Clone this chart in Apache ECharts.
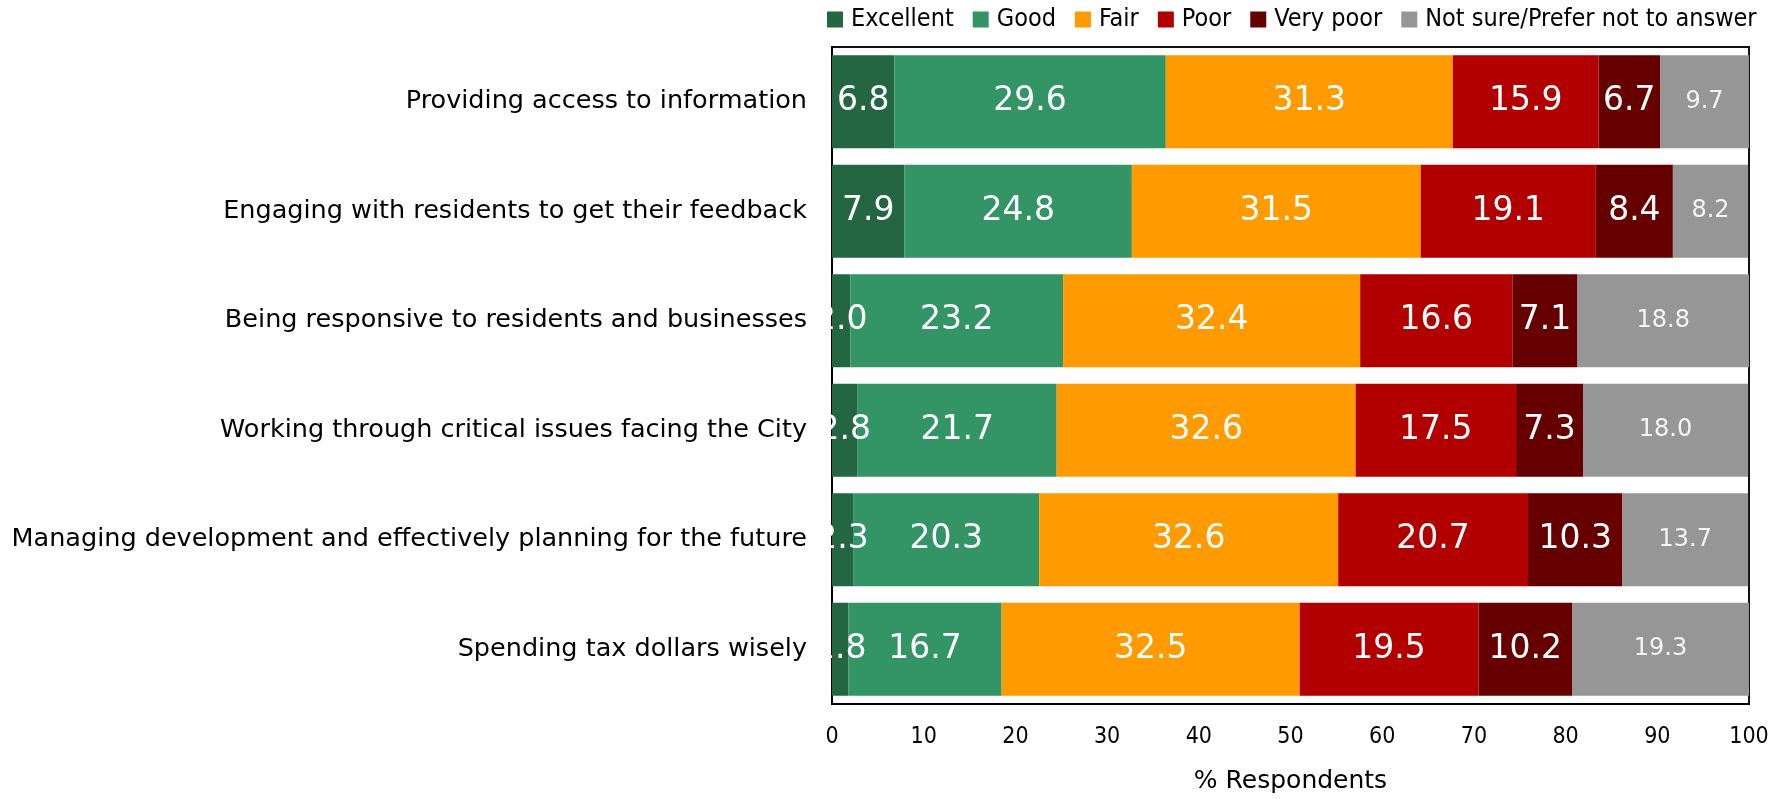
<!DOCTYPE html>
<html>
<head>
<meta charset="utf-8">
<script src="https://cdn.jsdelivr.net/npm/echarts@6/dist/echarts.min.js"></script>
<style>
  html, body { margin: 0; padding: 0; background: #fff; }
  #chart { width: 1786px; height: 799px; }
</style>
</head>
<body>
<div id="chart"></div>
<script>
const categories = [
  'Providing access to information',
  'Engaging with residents to get their feedback',
  'Being responsive to residents and businesses',
  'Working through critical issues facing the City',
  'Managing development and effectively planning for the future',
  'Spending tax dollars wisely'
];
const seriesNames = ['Excellent', 'Good', 'Fair', 'Poor', 'Very poor', 'Not sure/Prefer not to answer'];
const colors = ['#236641', '#339465', '#FF9A00', '#B20000', '#660000', '#969696'];

const excellent = [6.8, 7.9, 2.0, 2.8, 2.3, 1.8];
const good      = [29.6, 24.8, 23.2, 21.7, 20.3, 16.7];
const fair      = [31.3, 31.5, 32.4, 32.6, 32.6, 32.5];
const poor      = [15.9, 19.1, 16.6, 17.5, 20.7, 19.5];
const veryPoor  = [6.7, 8.4, 7.1, 7.3, 10.3, 10.2];
const notSure   = [9.7, 8.2, 18.8, 18.0, 13.7, 19.3];

const values = [excellent, good, fair, poor, veryPoor, notSure];
const xTicks = [0, 10, 20, 30, 40, 50, 60, 70, 80, 90, 100];

const wide = 'DejaVu Sans';
const narrow = 'DejaVu Sans Condensed';

const series = seriesNames.map((name, i) => ({
  name: name,
  type: 'bar',
  stack: 'total',
  barCategoryGap: '15%',
  itemStyle: { color: colors[i] },
  label: {
    show: true,
    position: 'inside',
    color: i === 5 ? '#f4f4f4' : '#fff',
    fontFamily: wide,
    fontSize: i === 5 ? 24 : 33,
    formatter: p => p.value.toFixed(1)
  },
  data: values[i]
}));

const chart = echarts.init(document.getElementById('chart'));
chart.setOption({
  animation: false,
  legend: {
    top: 2,
    left: 822,
    itemWidth: 16,
    itemHeight: 16,
    itemGap: 19,
    icon: 'rect',
    textStyle: { fontFamily: narrow, fontSize: 25, color: '#000', padding: [0, 0, 0, 3] },
    data: seriesNames
  },
  grid: {
    left: 832,
    right: 37,
    top: 47,
    bottom: 91,
    show: true,
    borderColor: '#111',
    borderWidth: 2
  },
  xAxis: {
    type: 'value',
    min: 0,
    max: 100,
    interval: 10,
    name: '% Respondents',
    nameLocation: 'middle',
    nameGap: 65,
    nameTextStyle: { fontFamily: wide, fontSize: 25, color: '#000', verticalAlign: 'top' },
    axisLine: { show: true, lineStyle: { color: '#000', width: 2 } },
    axisTick: { show: false },
    splitLine: { show: false },
    axisLabel: {
      fontFamily: narrow, fontSize: 23, color: '#000', margin: 22,
      formatter: v => xTicks.includes(v) ? String(v) : ''
    }
  },
  yAxis: {
    type: 'category',
    inverse: true,
    data: categories,
    axisLine: { show: true, lineStyle: { color: '#000', width: 2 } },
    axisTick: { show: false },
    axisLabel: { fontFamily: wide, fontSize: 25.5, color: '#000', margin: 25 }
  },
  series: series
});
</script>
</body>
</html>
